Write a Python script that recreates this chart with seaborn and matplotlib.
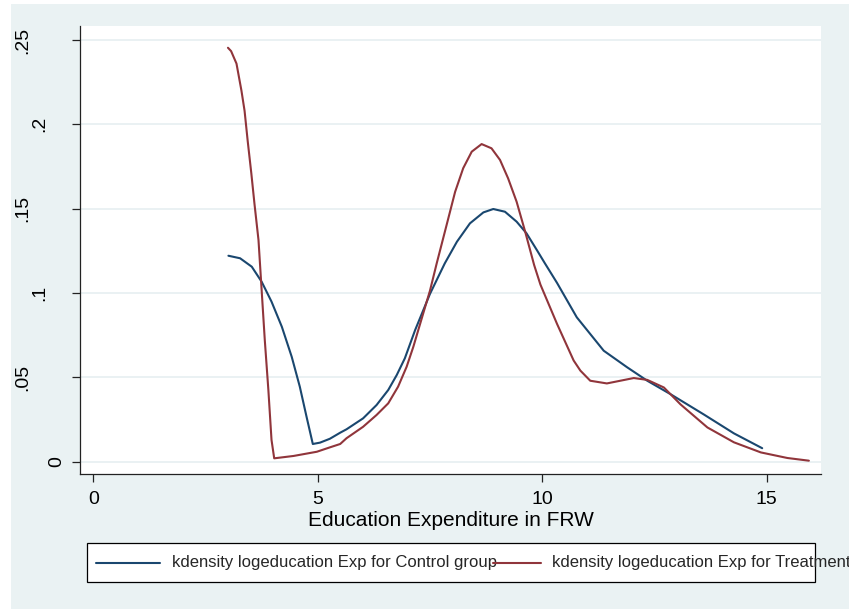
import numpy as np
import pandas as pd
import matplotlib
matplotlib.use("Agg")
import matplotlib.pyplot as plt
import seaborn as sns
from matplotlib.patches import Rectangle
from matplotlib.lines import Line2D
from matplotlib.transforms import ScaledTranslation

# ---- data ----
control_x = [3.01, 3.27, 3.53, 3.75, 3.97, 4.20, 4.42, 4.60, 4.75, 4.89, 5.05, 5.27,
             5.50, 5.64, 6.01, 6.31, 6.57, 6.76, 6.94, 7.17, 7.50, 7.83, 8.10, 8.39,
             8.69, 8.91, 9.17, 9.43, 9.65, 9.88, 10.06, 10.33, 10.77, 11.37, 11.89,
             12.34, 12.86, 13.60, 14.27, 14.90]
control_y = [0.1221, 0.1206, 0.1156, 0.1067, 0.0949, 0.0800, 0.0622, 0.0445, 0.0267,
             0.0105, 0.0113, 0.0136, 0.0172, 0.0192, 0.0257, 0.0336, 0.0425, 0.0514,
             0.0613, 0.0781, 0.0995, 0.1176, 0.1304, 0.1413, 0.1478, 0.1498, 0.1482,
             0.1423, 0.1354, 0.1255, 0.1176, 0.1060, 0.0856, 0.0658, 0.0560, 0.0480,
             0.0400, 0.0280, 0.0168, 0.0080]

treat_x = [3.00, 3.07, 3.19, 3.30, 3.37, 3.44, 3.52, 3.59, 3.68, 3.75, 3.82, 3.90,
           3.97, 4.03, 4.46, 4.98, 5.27, 5.50, 5.64, 6.01, 6.31, 6.57, 6.79, 6.98,
           7.13, 7.24, 7.50, 7.65, 7.87, 8.06, 8.24, 8.43, 8.65, 8.87, 9.06, 9.24,
           9.43, 9.62, 9.82, 9.96, 10.33, 10.70, 10.85, 11.07, 11.44, 12.04, 12.34,
           12.71, 13.08, 13.68, 14.27, 14.87, 15.46, 15.94]
treat_y = [0.2454, 0.2434, 0.2360, 0.2200, 0.2080, 0.1900, 0.1710, 0.1530, 0.1314,
           0.1018, 0.0722, 0.0425, 0.0129, 0.0020, 0.0034, 0.0059, 0.0085, 0.0105,
           0.0139, 0.0207, 0.0277, 0.0346, 0.0445, 0.0563, 0.0682, 0.0781, 0.1014,
           0.1176, 0.1403, 0.1600, 0.1740, 0.1838, 0.1883, 0.1858, 0.1789, 0.1680,
           0.1541, 0.1364, 0.1166, 0.1050, 0.0817, 0.0600, 0.0540, 0.0480, 0.0464,
           0.0496, 0.0485, 0.0440, 0.0340, 0.0203, 0.0115, 0.0055, 0.0022, 0.0006]

series_names = ["kdensity logeducation Exp for Control group",
                "kdensity logeducation Exp for Treatment"]
series_colors = ["#1a476f", "#90353b"]

x_ticks = [0, 5, 10, 15]
x_tick_labels = ["0", "5", "10", "15"]
y_ticks = [0, 0.05, 0.10, 0.15, 0.20, 0.25]
y_tick_labels = ["0", ".05", ".1", ".15", ".2", ".25"]
x_label = "Education Expenditure in FRW"

df = pd.concat([
    pd.DataFrame({"x": control_x, "y": control_y, "series": series_names[0]}),
    pd.DataFrame({"x": treat_x, "y": treat_y, "series": series_names[1]}),
], ignore_index=True)

# ---- style ----
sns.set_style("white")
plt.rcParams["font.family"] = ["Liberation Sans", "DejaVu Sans"]

W, H = 849, 609
fig = plt.figure(figsize=(W / 100, H / 100), dpi=100, facecolor="white")
bg = "#eaf2f3"
fig.add_artist(Rectangle((11 / W, 0), 1 - 11 / W, (H - 4) / H,
                         transform=fig.transFigure, facecolor=bg,
                         edgecolor="none", zorder=-10))

ax = fig.add_axes([80 / W, (H - 474.3) / H, (821 - 80) / W, (474.3 - 26) / H])
ax.set_facecolor("white")

sns.lineplot(data=df, x="x", y="y", hue="series", palette=series_colors,
             estimator=None, sort=False, linewidth=1.5, legend=False, ax=ax,
             zorder=3)
for ln in ax.get_lines():
    ln.set_solid_joinstyle("round")

ax.set_xlim(-0.296, 16.21)
ax.set_ylim(-0.00747, 0.2583)

ax.set_xticks(x_ticks)
ax.set_xticklabels(x_tick_labels, fontsize=14)
ax.set_yticks(y_ticks)
ax.set_yticklabels(y_tick_labels, fontsize=14, rotation=90, va="center")

ax.grid(False)
for yv in y_ticks:
    ax.axhline(yv, color="#e6eff1", linewidth=1.2, zorder=1)

for s in ["top", "right"]:
    ax.spines[s].set_visible(False)
for s in ["left", "bottom"]:
    ax.spines[s].set_visible(True)
    ax.spines[s].set_color("#222222")
    ax.spines[s].set_linewidth(0.9)

ax.tick_params(axis="x", direction="out", length=6, width=0.9, color="#222222",
               pad=6, labelcolor="black", bottom=True)
ax.tick_params(axis="y", direction="out", length=5.8, width=0.9, color="#222222",
               pad=4.7, labelcolor="black", left=True)

# Stata places vertical y labels further left the more characters they have
for tick, lab in zip(ax.yaxis.get_major_ticks(), y_tick_labels):
    dx = -(len(lab) - 1) * 17 / 100
    tick.label1.set_transform(tick.label1.get_transform() +
                              ScaledTranslation(dx, 0, fig.dpi_scale_trans))

ax.set_xlabel(x_label, fontsize=15, labelpad=2, color="black")
ax.set_ylabel("")

# ---- legend (Stata style) ----
fig.add_artist(Rectangle((87 / W, (H - 582) / H), (815 - 87) / W, 39 / H,
                         transform=fig.transFigure, facecolor="white",
                         edgecolor="black", linewidth=0.9, zorder=5))
ly = (H - 563) / H
fig.add_artist(Line2D([96 / W, 160 / W], [ly, ly], transform=fig.transFigure,
                      color=series_colors[0], linewidth=1.5, zorder=6))
fig.text(172 / W, ly, series_names[0], fontsize=12, va="center", ha="left",
         zorder=7)
fig.add_artist(Line2D([493 / W, 541 / W], [ly, ly], transform=fig.transFigure,
                      color=series_colors[1], linewidth=1.5, zorder=8))
fig.text(552 / W, ly, series_names[1], fontsize=12, va="center", ha="left",
         zorder=7)

fig.savefig("out.png", dpi=100, facecolor="white")
